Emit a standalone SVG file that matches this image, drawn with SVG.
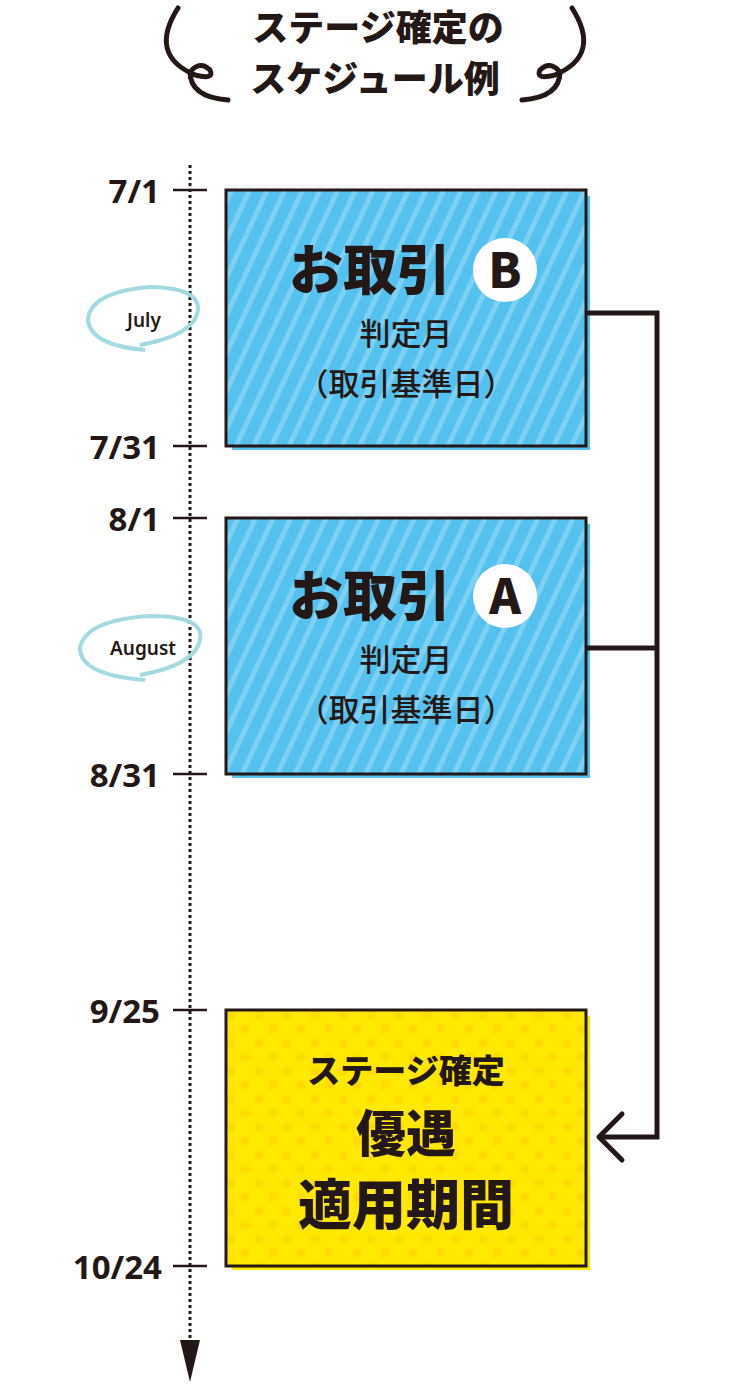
<svg xmlns="http://www.w3.org/2000/svg" width="750" height="1384" viewBox="0 0 750 1384">
<defs>
<pattern id="stripe" width="16" height="16" patternUnits="userSpaceOnUse" patternTransform="rotate(25)">
<rect width="16" height="16" fill="#55c1ef"/><rect width="5" height="16" fill="#7fd1f3"/>
</pattern>
<pattern id="dots" width="28" height="28" patternUnits="userSpaceOnUse">
<rect width="28" height="28" fill="#ffe900"/><circle cx="7" cy="7" r="4.5" fill="#ffdc00"/><circle cx="21" cy="21" r="4.5" fill="#ffdc00"/>
</pattern>
<style>
text{font-family:"Noto Sans CJK JP","Noto Sans",sans-serif;fill:#231815;text-anchor:middle;font-weight:900}
.date{font-family:"Noto Sans",sans-serif;font-size:33px;text-anchor:end;font-weight:bold}
.tick{stroke:#231815;stroke-width:2.5}
.box{stroke:#231815;stroke-width:3}
.mon{font-family:"Noto Sans",sans-serif;font-size:19px;font-weight:600}
.ring{fill:none;stroke:#a3d9e0;stroke-width:4}
.sub{font-size:31px;font-weight:500}
</style>
</defs>
<g id="title">
<path d="M178 8 Q148 55 195 75 Q215 80 210 70 Q200 60 190 72 Q190 97 228 100" fill="none" stroke="#231815" stroke-width="5" stroke-linecap="round"/>
<path d="M572 8 Q602 55 555 75 Q535 80 540 70 Q550 60 560 72 Q560 97 522 100" fill="none" stroke="#231815" stroke-width="5" stroke-linecap="round"/>
<text x="378" y="41" font-size="36">ステージ確定の</text>
<text x="375" y="92" font-size="36">スケジュール例</text>
</g>
<g id="axis">
<line x1="190" y1="165" x2="190" y2="1345" stroke="#231815" stroke-width="3" stroke-dasharray="3,3"/>
<path d="M180 1340 L200 1340 L190 1382 Z" fill="#231815"/>
<line class="tick" x1="173" y1="190" x2="207" y2="190"/>
<line class="tick" x1="173" y1="446" x2="207" y2="446"/>
<line class="tick" x1="173" y1="518" x2="207" y2="518"/>
<line class="tick" x1="173" y1="774" x2="207" y2="774"/>
<line class="tick" x1="173" y1="1010" x2="207" y2="1010"/>
<line class="tick" x1="173" y1="1266" x2="207" y2="1266"/>
<text class="date" x="160" y="203">7/1</text>
<text class="date" x="160" y="459">7/31</text>
<text class="date" x="160" y="531">8/1</text>
<text class="date" x="160" y="787">8/31</text>
<text class="date" x="160" y="1023">9/25</text>
<text class="date" x="162" y="1279">10/24</text>
</g>
<g id="july">
<path class="ring" d="M145 350 Q90 345 88 320 Q90 292 150 287 Q200 288 198 310 Q195 335 140 345"/>
<text class="mon" x="144" y="327">July</text>
</g>
<g id="august">
<path class="ring" d="M145 680 Q80 675 80 648 Q85 620 150 616 Q205 616 200 640 Q195 665 140 675"/>
<text class="mon" x="143" y="655">August</text>
</g>
<g id="boxB">
<rect x="232" y="196" width="358" height="254" fill="#55c1ef"/>
<rect class="box" x="226" y="190" width="360" height="256" fill="url(#stripe)"/>
<text x="370" y="290" font-size="54">お取引</text>
<circle cx="505" cy="270" r="32" fill="#fff"/>
<text x="505" y="288" font-size="48" font-family="Noto Sans,sans-serif">B</text>
<text class="sub" x="406" y="345">判定月</text>
<text class="sub" x="406" y="395">（取引基準日）</text>
</g>
<g id="boxA">
<rect x="232" y="524" width="358" height="254" fill="#55c1ef"/>
<rect class="box" x="226" y="518" width="360" height="256" fill="url(#stripe)"/>
<text x="370" y="616" font-size="54">お取引</text>
<circle cx="505" cy="596" r="32" fill="#fff"/>
<text x="505" y="614" font-size="48" font-family="Noto Sans,sans-serif">A</text>
<text class="sub" x="406" y="671">判定月</text>
<text class="sub" x="406" y="721">（取引基準日）</text>
</g>
<g id="boxStage">
<rect x="232" y="1016" width="358" height="254" fill="#ffe900"/>
<rect class="box" x="226" y="1010" width="360" height="256" fill="url(#dots)"/>
<text x="406" y="1083" font-size="33" font-weight="bold">ステージ確定</text>
<text x="406" y="1152" font-size="50">優遇</text>
<text x="406" y="1225" font-size="54">適用期間</text>
</g>
<g id="connectors" fill="none" stroke="#231815" stroke-width="5">
<path d="M586 313 H657 V1137 H600"/>
<path d="M586 648 H657"/>
<path d="M622 1114 L599 1137 L622 1160" stroke-linecap="round" stroke-linejoin="round"/>
</g>
</svg>
